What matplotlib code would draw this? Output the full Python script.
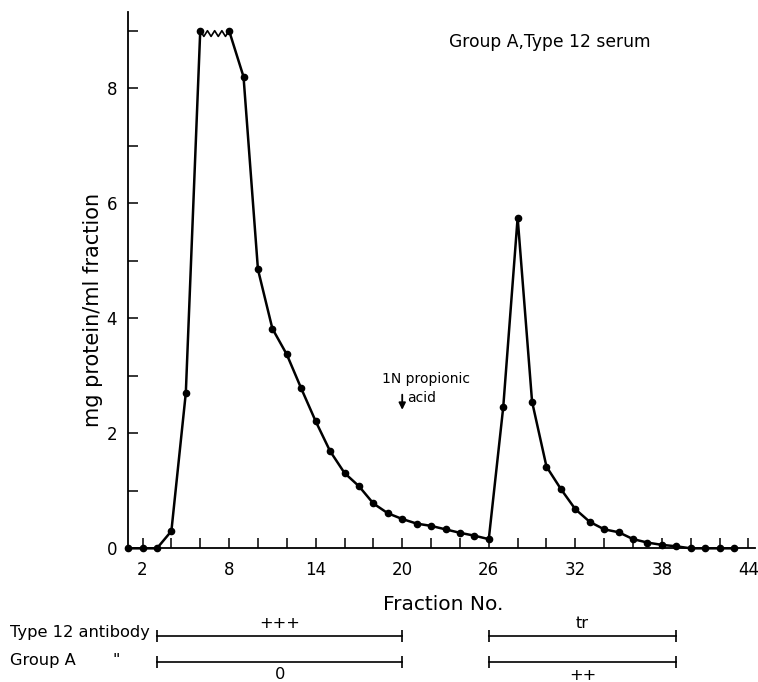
import numpy as np
import matplotlib
matplotlib.use("Agg")
import matplotlib.pyplot as plt
from matplotlib.transforms import blended_transform_factory

# fraction numbers and protein (mg/ml); fraction 7 ran off scale (break drawn between 6 and 8)
fractions = [1, 2, 3, 4, 5, 6, 8, 9, 10, 11, 12, 13, 14, 15, 16, 17, 18, 19, 20,
             21, 22, 23, 24, 25, 26, 27, 28, 29, 30, 31, 32, 33, 34, 35, 36, 37,
             38, 39, 40, 41, 42, 43]
protein = [0, 0, 0, 0.3, 2.7, 9.0, 9.0, 8.2, 4.85, 3.82, 3.37, 2.78, 2.21, 1.69,
           1.31, 1.08, 0.78, 0.61, 0.51, 0.43, 0.39, 0.33, 0.27, 0.22, 0.16,
           2.45, 5.75, 2.55, 1.42, 1.03, 0.68, 0.46, 0.33, 0.28, 0.16, 0.10,
           0.06, 0.035, 0, 0, 0, 0]
off_scale = (6, 8)

xticks = list(range(2, 45, 2))
xticklabels = ["2", "8", "14", "20", "26", "32", "38", "44"]
yticks = list(range(0, 10))
yticklabels = ["0", "2", "4", "6", "8"]

# activity bars below the axis: (row label, start, end, text)
rows = ["Type 12 antibody", "Group A"]
bar_spans = [(3, 20), (26, 39)]
row_marks = [["+++", "tr"], ["0", "++"]]

fig = plt.figure(figsize=(7.58, 6.82), dpi=100)
ax = fig.add_axes([0.169, 0.196, 0.827, 0.786])

fr = np.array(fractions)
pr = np.array(protein)
i6 = fractions.index(off_scale[0])
# first segment up to the off-scale point, then from fraction 8 on
ax.plot(fr[:i6 + 1], pr[:i6 + 1], color="black", lw=1.8, marker="o", ms=4.5,
        clip_on=False, zorder=3)
ax.plot(fr[i6 + 1:], pr[i6 + 1:], color="black", lw=1.8, marker="o", ms=4.5,
        clip_on=False, zorder=3)
# zigzag break at the top
zx = np.linspace(fr[i6], fr[i6 + 1], 9)
zy = pr[i6] - np.array([0, 0.1, 0, 0.1, 0, 0.1, 0, 0.1, 0])
ax.plot(zx, zy, color="black", lw=1.2, clip_on=False, zorder=3)

ax.set_xlim(1, 44.45)
ax.set_ylim(0, 9.32)
for s in ["top", "right"]:
    ax.spines[s].set_visible(False)
for s in ["left", "bottom"]:
    ax.spines[s].set_linewidth(1.3)

ax.set_xticks(xticks)
ax.set_xticklabels([str(t) if str(t) in xticklabels else "" for t in xticks])
ax.set_yticks(yticks)
ax.set_yticklabels([str(t) if str(t) in yticklabels else "" for t in yticks])
ax.tick_params(direction="in", length=7, width=1.1, labelsize=12)
ax.tick_params(axis="x", pad=9)
ax.tick_params(axis="y", pad=8)

ax.set_ylabel("mg protein/ml fraction", fontsize=15)
ax.yaxis.set_label_coords(-0.04, 0.444)
ax.text(0.673, 0.945, "Group A,Type 12 serum", transform=ax.transAxes,
        fontsize=12.3, ha="center", va="center")

ax.annotate("", xy=(20, 2.36), xytext=(20, 2.72),
            arrowprops=dict(arrowstyle="-|>", color="black", lw=1.3,
                            mutation_scale=10))
ax.text(18.6, 2.95, "1N propionic", fontsize=10, ha="left", va="center")
ax.text(20.35, 2.62, "acid", fontsize=10, ha="left", va="center")

fig.text(0.585, 0.113, "Fraction No.", fontsize=14.5, ha="center", va="center")

tr = blended_transform_factory(ax.transData, fig.transFigure)
row_y = [0.0674, 0.0293]
text_y = [[0.086, 0.086], [0.011, 0.009]]
fig.text(0.013, 0.073, rows[0], fontsize=11.7, ha="left", va="center")
fig.text(0.013, 0.031, rows[1], fontsize=11.7, ha="left", va="center")
fig.text(0.149, 0.031, '"', fontsize=11.7, ha="left", va="center")
for r in range(len(rows)):
    for b, (x0, x1) in enumerate(bar_spans):
        ax.plot([x0, x1], [row_y[r], row_y[r]], transform=tr, color="black",
                lw=1.2, marker="|", ms=9, mew=1.2, clip_on=False)
        ax.text((x0 + x1) / 2, text_y[r][b], row_marks[r][b], transform=tr,
                fontsize=11.7, ha="center", va="center")

fig.savefig("out.png", dpi=100)
